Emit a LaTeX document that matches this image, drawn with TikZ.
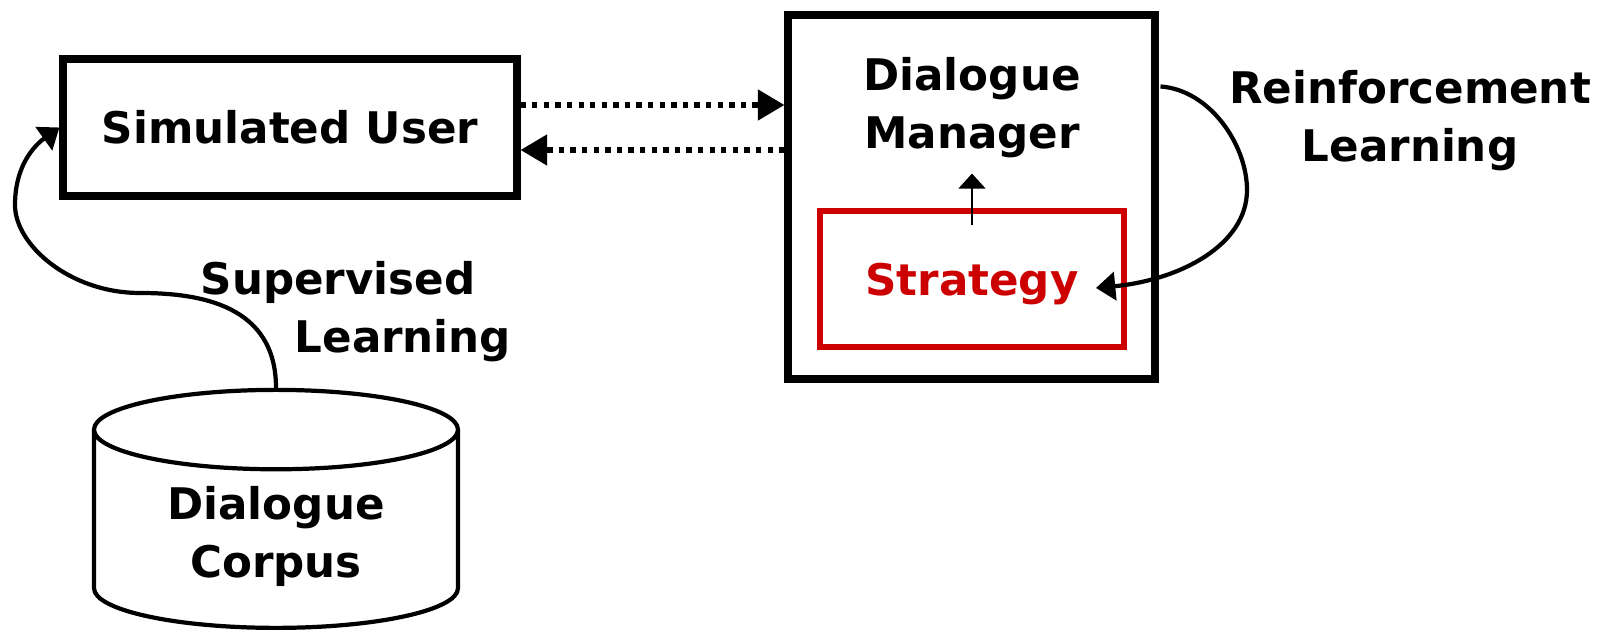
\documentclass[tikz,border=0pt]{standalone}
\usepackage{fontspec}
\setmainfont{DejaVu Sans}
\usetikzlibrary{calc}
\usetikzlibrary{arrows.meta}
\usetikzlibrary{shapes.geometric}

\definecolor{stratred}{RGB}{204,0,0}

\begin{document}
\begin{tikzpicture}[
  every node/.style={font=\fontsize{12.4}{16.5}\selectfont\bfseries},
  box/.style={draw, line width=2pt, inner sep=0pt},
  dotarrow/.style={line width=1.6pt, dash pattern=on 1.5pt off 1.8pt, -{Triangle[length=7.6pt,width=8.5pt]}},
  curvearrow/.style={line width=1.2pt, -{Triangle[length=5.5pt,width=8pt]}}
]
\useasboundingbox (0,0) rectangle (15.98,6.35);

% boxes
\node[box, minimum width=4.54cm, minimum height=1.37cm] (user) at (2.90,5.075) {Simulated User};
\node[box, minimum width=3.67cm, minimum height=3.64cm] (dm) at (9.715,4.38) {};
\node[align=center, inner sep=4.3pt] (dmlbl) at (9.72,5.275) {Dialogue\\Manager};
\node[draw=stratred, text=stratred, line width=1.7pt, text depth=0pt, minimum width=3.04cm, minimum height=1.36cm] (strat) at (9.72,3.56) {Strategy};
\node[cylinder, shape border rotate=90, draw, line width=1.2pt, aspect=0.33, minimum width=3.64cm, minimum height=2.38cm, align=center, anchor=south] (corpus) at (2.76,0.05) {Dialogue\\Corpus};

% labels
\node[align=center] (rl) at (14.1,5.14) {Reinforcement\\Learning};
\node[align=left, anchor=west, inner sep=0pt] (sl) at (2.0,3.23) {Supervised\\\hspace*{0.94cm}Learning};

% user <-> manager
\coordinate (u1) at ([yshift=2.25mm]user.east);
\coordinate (u2) at ([yshift=-2.25mm]user.east);
\draw[dotarrow] (u1) -- (u1 -| dm.west);
\draw[dotarrow] (u2 -| dm.west) -- (u2);

\draw[line width=0.5pt, -{Triangle[length=4.3pt,width=7.7pt]}] ([yshift=-1.7mm]strat.north) -- (dmlbl.south);

% learning loops
\draw[curvearrow] (corpus.north) .. controls (2.76,3.3) and (2.0,3.42) .. (1.4,3.42)
  .. controls (0.7,3.42) and (0.15,3.9) .. (0.15,4.3)
  .. controls (0.15,4.7) and (0.35,4.9) .. (user.west);

\coordinate (rlstart) at ($(dm.north east)+(0.02,-0.75)$);
\coordinate (rlend) at ($(strat.east)+(-0.31,-0.09)$);
\draw[curvearrow] (rlstart) .. controls (12.1,5.45) and (12.47,4.9) .. (12.47,4.45)
  .. controls (12.47,3.9) and (11.8,3.55) .. (rlend);

\end{tikzpicture}
\end{document}
